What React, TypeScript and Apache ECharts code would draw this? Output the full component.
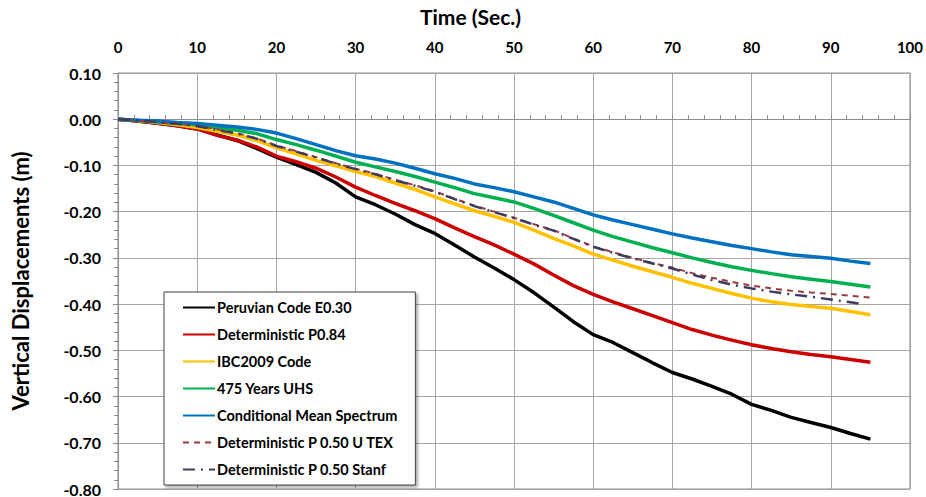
import React, { useEffect, useRef } from "react";
import * as echarts from "echarts";

const times = [0, 2.5, 5, 7.5, 10, 12.5, 15, 17.5, 20, 22.5, 25, 27.5, 30, 32.5, 35, 37.5, 40, 42.5, 45, 47.5, 50, 52.5, 55, 57.5, 60, 62.5, 65, 67.5, 70, 72.5, 75, 77.5, 80, 82.5, 85, 87.5, 90, 92.5, 95];

const peruvian = [0, -0.004, -0.009, -0.014, -0.021, -0.034, -0.046, -0.063, -0.082, -0.098, -0.115, -0.138, -0.168, -0.185, -0.205, -0.228, -0.247, -0.272, -0.298, -0.322, -0.347, -0.375, -0.406, -0.438, -0.466, -0.483, -0.505, -0.527, -0.548, -0.562, -0.578, -0.595, -0.617, -0.630, -0.645, -0.656, -0.667, -0.680, -0.692];
const detP084 = [0, -0.004, -0.009, -0.014, -0.021, -0.035, -0.045, -0.060, -0.080, -0.092, -0.106, -0.125, -0.147, -0.165, -0.182, -0.198, -0.215, -0.235, -0.254, -0.272, -0.292, -0.313, -0.337, -0.360, -0.379, -0.395, -0.410, -0.425, -0.440, -0.455, -0.467, -0.478, -0.488, -0.496, -0.503, -0.509, -0.514, -0.520, -0.526];
const ibc2009 = [0, -0.003, -0.007, -0.012, -0.018, -0.026, -0.034, -0.046, -0.062, -0.075, -0.089, -0.101, -0.113, -0.124, -0.138, -0.152, -0.168, -0.183, -0.198, -0.210, -0.223, -0.240, -0.258, -0.274, -0.292, -0.305, -0.318, -0.330, -0.342, -0.355, -0.366, -0.377, -0.387, -0.395, -0.401, -0.405, -0.409, -0.416, -0.423];
const uhs475 = [0, -0.003, -0.006, -0.009, -0.012, -0.018, -0.024, -0.031, -0.044, -0.055, -0.067, -0.080, -0.093, -0.103, -0.113, -0.124, -0.136, -0.148, -0.161, -0.170, -0.179, -0.193, -0.208, -0.224, -0.240, -0.254, -0.266, -0.278, -0.289, -0.300, -0.310, -0.319, -0.327, -0.334, -0.341, -0.346, -0.351, -0.357, -0.363];
const cms = [0, -0.002, -0.004, -0.007, -0.009, -0.013, -0.017, -0.022, -0.030, -0.042, -0.055, -0.068, -0.079, -0.086, -0.095, -0.106, -0.118, -0.128, -0.140, -0.148, -0.157, -0.168, -0.179, -0.193, -0.207, -0.218, -0.228, -0.238, -0.248, -0.257, -0.265, -0.273, -0.280, -0.287, -0.293, -0.297, -0.301, -0.307, -0.312];
const utex = [0, -0.003, -0.006, -0.010, -0.014, -0.022, -0.030, -0.041, -0.057, -0.069, -0.082, -0.095, -0.107, -0.118, -0.131, -0.143, -0.156, -0.172, -0.187, -0.200, -0.213, -0.227, -0.240, -0.258, -0.275, -0.288, -0.300, -0.311, -0.321, -0.333, -0.343, -0.352, -0.360, -0.366, -0.371, -0.375, -0.378, -0.382, -0.386];
const stanfTimes = [0, 2.5, 5, 7.5, 10, 12.5, 15, 17.5, 20, 22.5, 25, 27.5, 30, 32.5, 35, 37.5, 40, 42.5, 45, 47.5, 50, 52.5, 55, 57.5, 60, 62.5, 65, 67.5, 70, 72.5, 75, 77.5, 80, 82.5, 85, 87.5, 90, 92.5, 94];
const stanf = [0, -0.003, -0.006, -0.010, -0.015, -0.023, -0.031, -0.042, -0.058, -0.070, -0.083, -0.096, -0.108, -0.119, -0.132, -0.144, -0.157, -0.173, -0.188, -0.201, -0.214, -0.228, -0.241, -0.259, -0.276, -0.289, -0.301, -0.312, -0.323, -0.336, -0.348, -0.358, -0.366, -0.373, -0.379, -0.384, -0.390, -0.396, -0.400];

const pair = (ts: number[], vs: number[]) => ts.map((t, i) => [t, vs[i]]);

export default function App() {
  const ref = useRef<HTMLDivElement>(null);
  useEffect(() => {
    if (!ref.current) return;
    const chart = echarts.init(ref.current, undefined, { renderer: "svg" });
    const font = "Lato";
    const mk = (name: string, ts: number[], vs: number[], color: string, width: number, type: any = "solid") => ({
      name,
      type: "line",
      data: pair(ts, vs),
      symbol: "none",
      smooth: false,
      lineStyle: { color, width, type },
      itemStyle: { color },
    });
    chart.setOption({
      animation: false,
      backgroundColor: "#ffffff",
      textStyle: { fontFamily: font },
      grid: { left: 118, top: 73, right: 16, bottom: 6, show: true, borderColor: "#8c8c8c", borderWidth: 1 },
      graphic: [
        {
          type: "text",
          left: 420,
          top: 6,
          style: { text: "Time (Sec.)", font: `bold 21px ${font}`, fill: "#000" },
        },
      ],
      xAxis: {
        type: "value",
        position: "top",
        min: 0,
        max: 100,
        interval: 10,
        axisLine: { show: true, lineStyle: { color: "#8c8c8c" } },
        axisTick: { show: true, length: 5, lineStyle: { color: "#8c8c8c" } },
        minorTick: { show: true, splitNumber: 5, length: 4, lineStyle: { color: "#8c8c8c" } },
        splitLine: { show: true, lineStyle: { color: "#a6a6a6", width: 1 } },
        axisLabel: { margin: 19, fontSize: 15, fontWeight: "bold", color: "#000", fontFamily: font },
      },
      yAxis: {
        type: "value",
        min: -0.8,
        max: 0.1,
        interval: 0.1,
        name: "Vertical Displacements (m)",
        nameLocation: "middle",
        nameGap: 87,
        nameTextStyle: { fontSize: 22, fontWeight: "bold", color: "#000", fontFamily: font },
        axisLine: { show: true, onZero: false, lineStyle: { color: "#8c8c8c" } },
        axisTick: { show: true, length: 5, lineStyle: { color: "#8c8c8c" } },
        minorTick: { show: true, splitNumber: 5, length: 4, lineStyle: { color: "#8c8c8c" } },
        splitLine: { show: true, lineStyle: { color: "#a6a6a6", width: 1 } },
        axisLabel: {
          margin: 17,
          fontSize: 16,
          fontWeight: "bold",
          color: "#000",
          fontFamily: font,
          formatter: (v: number) => v.toFixed(2),
        },
      },
      legend: {
        orient: "vertical",
        left: 164,
        top: 292,
        padding: [8, 18, 8, 18],
        itemGap: 12,
        itemWidth: 32,
        itemHeight: 16,
        itemStyle: { opacity: 0 },
        lineStyle: { inherit: true },
        backgroundColor: "#ffffff",
        borderColor: "#404040",
        borderWidth: 1,
        shadowColor: "rgba(0,0,0,0.35)",
        shadowBlur: 3,
        shadowOffsetX: 2,
        shadowOffsetY: 2,
        textStyle: { fontSize: 14.5, fontWeight: "bold", color: "#000", fontFamily: font, padding: [0, 0, 0, -3] },
        data: [
          "Peruvian Code E0.30",
          "Deterministic P0.84",
          "IBC2009 Code",
          "475 Years UHS",
          "Conditional Mean Spectrum",
          "Deterministic P 0.50 U TEX",
          "Deterministic P 0.50 Stanf",
        ],
      },
      series: [
        mk("Peruvian Code E0.30", times, peruvian, "#000000", 3.5),
        mk("Deterministic P0.84", times, detP084, "#cc0000", 3.5),
        mk("IBC2009 Code", times, ibc2009, "#ffc000", 3.5),
        mk("475 Years UHS", times, uhs475, "#00b050", 3.5),
        mk("Conditional Mean Spectrum", times, cms, "#0070c0", 3.5),
        mk("Deterministic P 0.50 U TEX", times, utex, "#9b3b3b", 2, [6, 5]),
        mk("Deterministic P 0.50 Stanf", stanfTimes, stanf, "#3f3a60", 2.5, [12, 6, 2, 6]),
      ],
    });
    return () => chart.dispose();
  }, []);
  return <div ref={ref} style={{ position: "absolute", left: 0, top: 0, width: 926, height: 497 }} />;
}
